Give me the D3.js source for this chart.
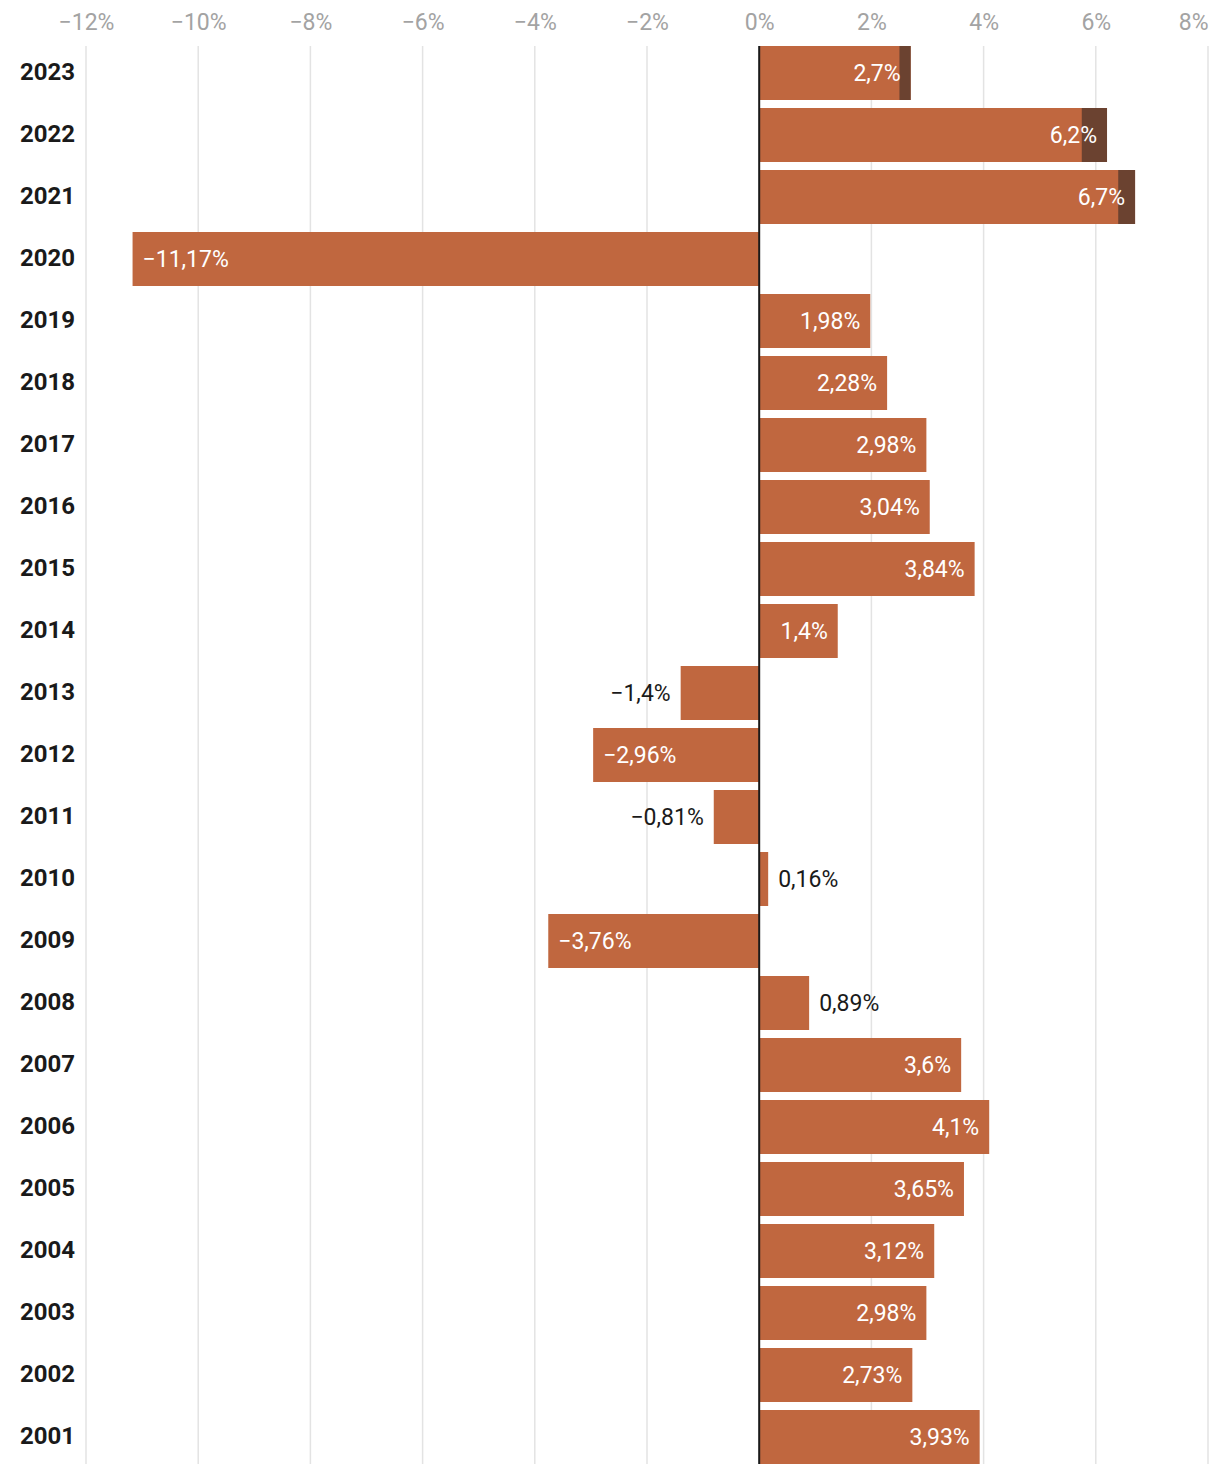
<!DOCTYPE html>
<html>
<head>
<meta charset="utf-8">
<script src="https://cdn.jsdelivr.net/npm/d3@7"></script>
<style>
  html, body { margin: 0; padding: 0; background: #fff; }
  svg { display: block; font-family: Roboto, "Noto Sans", sans-serif; }
</style>
</head>
<body>
<svg id="chart" width="1220" height="1474"></svg>
<script>
const years = ["2023","2022","2021","2020","2019","2018","2017","2016","2015","2014","2013","2012","2011","2010","2009","2008","2007","2006","2005","2004","2003","2002","2001"];
const values = [2.7, 6.2, 6.7, -11.17, 1.98, 2.28, 2.98, 3.04, 3.84, 1.4, -1.4, -2.96, -0.81, 0.16, -3.76, 0.89, 3.6, 4.1, 3.65, 3.12, 2.98, 2.73, 3.93];
// dark tail segment at the end of the bar (share of the total)
const darkPart = [0.2, 0.45, 0.3, 0, 0, 0, 0, 0, 0, 0, 0, 0, 0, 0, 0, 0, 0, 0, 0, 0, 0, 0, 0];
const tickValues = [-12, -10, -8, -6, -4, -2, 0, 2, 4, 6, 8];

const svg = d3.select("#chart");
const fmtNum = v => (v < 0 ? "\u2212" : "") + String(Math.abs(v)).replace(".", ",") + "%";

const x = d3.scaleLinear().domain([-12, 8]).range([86, 1208]);
const y = d3.scaleBand().domain(years).range([46, 1464]).paddingInner(8 / 62).paddingOuter(0);

// top axis
const axis = d3.axisTop(x)
  .tickValues(tickValues)
  .tickFormat(d => (d < 0 ? "\u2212" : "") + Math.abs(d) + "%")
  .tickSize(0);
const ag = svg.append("g").attr("transform", "translate(0,22)").call(axis);
ag.select(".domain").remove();
ag.selectAll("text").attr("fill", "#a3a3a3").attr("font-size", 23).attr("dy", "0.35em").attr("y", 0)
  .attr("font-family", "Roboto, sans-serif");
ag.selectAll("text").filter(d => d === tickValues[tickValues.length - 1]).attr("text-anchor", "end");

// gridlines
svg.append("g").selectAll("line").data(tickValues).join("line")
  .attr("x1", d => x(d)).attr("x2", d => x(d))
  .attr("y1", 46).attr("y2", 1464)
  .attr("stroke", "#e3e3e3").attr("stroke-width", 1.5);

const data = years.map((yr, i) => ({ yr, v: values[i], dark: darkPart[i] }));

// bars
svg.append("g").selectAll("rect").data(data).join("rect")
  .attr("x", d => x(Math.min(0, d.v)))
  .attr("y", d => y(d.yr))
  .attr("width", d => Math.abs(x(d.v) - x(0)))
  .attr("height", y.bandwidth())
  .attr("fill", "#c0673f");

svg.append("g").selectAll("rect").data(data.filter(d => d.dark > 0)).join("rect")
  .attr("x", d => x(d.v - d.dark))
  .attr("y", d => y(d.yr))
  .attr("width", d => x(d.v) - x(d.v - d.dark))
  .attr("height", y.bandwidth())
  .attr("fill", "#6b4230");

// zero line
svg.append("line")
  .attr("x1", x(0)).attr("x2", x(0))
  .attr("y1", 46).attr("y2", 1464)
  .attr("stroke", "#1a1a1a").attr("stroke-width", 2);

// year labels
svg.append("g").selectAll("text").data(data).join("text")
  .attr("x", 20)
  .attr("y", d => y(d.yr) + y.bandwidth() / 2)
  .attr("dy", "0.3em")
  .attr("font-size", 24).attr("font-weight", 700).attr("fill", "#1a1a1a")
  .text(d => d.yr);

// value labels
const pad = 10;
const vl = svg.append("g").selectAll("text").data(data).join("text")
  .attr("y", d => y(d.yr) + y.bandwidth() / 2)
  .attr("dy", "0.33em")
  .attr("font-size", 23)
  .text(d => fmtNum(d.v));

vl.each(function (d) {
  const t = d3.select(this);
  const w = this.getBBox().width;
  const bw = Math.abs(x(d.v) - x(0));
  const inside = w + 2 * pad <= bw;
  if (d.v >= 0) {
    if (inside) t.attr("x", x(d.v) - pad).attr("text-anchor", "end").attr("fill", "#fff");
    else t.attr("x", x(d.v) + pad).attr("text-anchor", "start").attr("fill", "#1a1a1a");
  } else {
    if (inside) t.attr("x", x(d.v) + pad).attr("text-anchor", "start").attr("fill", "#fff");
    else t.attr("x", x(d.v) - pad).attr("text-anchor", "end").attr("fill", "#1a1a1a");
  }
});
</script>
</body>
</html>
